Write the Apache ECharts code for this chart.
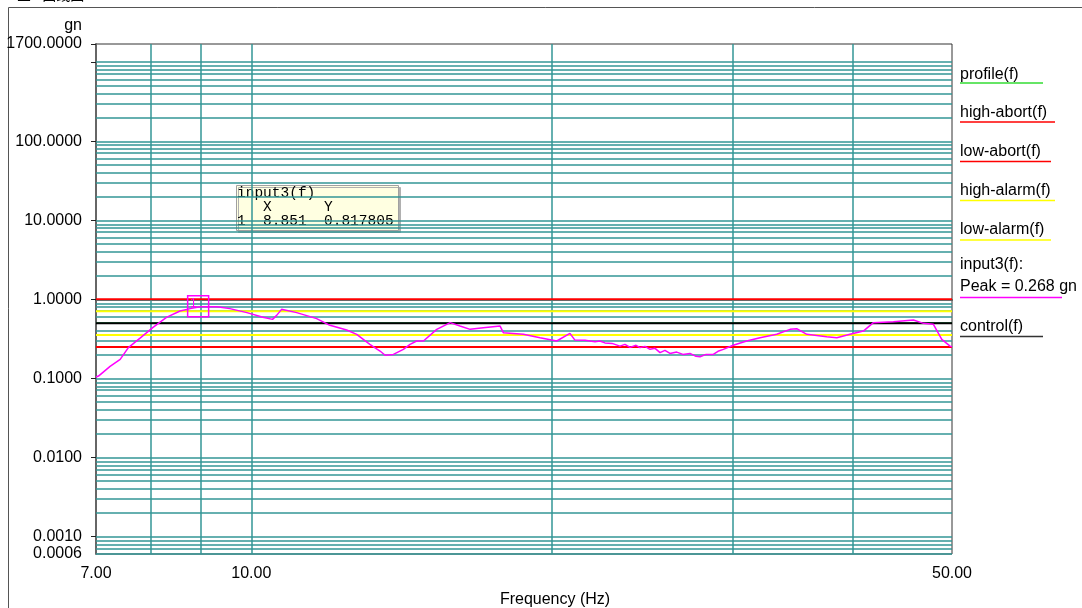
<!DOCTYPE html>
<html>
<head>
<meta charset="utf-8">
<script src="https://cdn.jsdelivr.net/npm/echarts@6/dist/echarts.min.js"></script>
<style>
  html, body { margin: 0; padding: 0; background: #fff; }
  #chart { width: 1082px; height: 608px; }
</style>
</head>
<body>
<div id="chart"></div>
<script>
// frequency range (Hz)
const freqRange = [7, 50];

// input3(f) response
const input3Freq = [7.00, 7.04, 7.23, 7.40, 7.54, 7.74, 7.98, 8.23, 8.49, 8.69, 8.89, 9.24, 9.52, 9.90,
  10.27, 10.50, 10.60, 10.72, 11.10, 11.62, 11.98, 12.45, 12.74, 13.13, 13.44, 13.60, 13.86, 14.18,
  14.40, 14.62, 14.85, 15.31, 15.54, 15.79, 16.15, 16.53, 17.04, 17.71, 17.84, 18.68, 19.41, 20.17,
  20.79, 21.03, 21.52, 22.02, 22.27, 22.53, 22.90, 23.32, 23.59, 23.87, 24.20, 24.42, 24.70, 24.99,
  25.28, 25.57, 25.86, 26.16, 26.57, 26.95, 27.39, 27.77, 28.03, 28.42, 28.90, 29.21, 29.57, 30.25,
  31.20, 32.17, 33.43, 34.47, 35.00, 35.82, 37.50, 38.38, 39.56, 40.79, 41.74, 43.70, 45.76, 46.82,
  47.91, 48.84, 49.78, 50.00];
const input3Gn = [0.104, 0.107, 0.142, 0.174, 0.245, 0.321, 0.442, 0.592, 0.711, 0.763, 0.808, 0.808, 0.763, 0.679,
  0.592, 0.558, 0.627, 0.747, 0.679, 0.570, 0.469, 0.409, 0.361, 0.269, 0.222, 0.196, 0.201, 0.233,
  0.269, 0.297, 0.297, 0.417, 0.459, 0.507, 0.459, 0.417, 0.438, 0.459, 0.379, 0.361, 0.327, 0.297,
  0.371, 0.305, 0.303, 0.290, 0.297, 0.281, 0.277, 0.256, 0.269, 0.247, 0.262, 0.245, 0.254, 0.233,
  0.240, 0.212, 0.226, 0.207, 0.215, 0.201, 0.207, 0.190, 0.188, 0.201, 0.201, 0.220, 0.233, 0.262,
  0.297, 0.327, 0.361, 0.417, 0.426, 0.361, 0.337, 0.327, 0.361, 0.397, 0.507, 0.522, 0.547, 0.497,
  0.483, 0.312, 0.256, 0.250];

// flat limit levels (gn)
const profileGn = 0.5;
const controlGn = 0.5;
const highAbortGn = 1.0;
const lowAbortGn = 0.25;
const highAlarmGn = 0.707;
const lowAlarmGn = 0.354;

// cursor readout
const cursorX = 8.851;
const cursorY = 0.817805;
const peakText = 'Peak = 0.268 gn';

// axis labels / ticks
const yLabelValues = [0.0006, 0.001, 0.01, 0.1, 1, 10, 100, 1700];
const yTickValues = [0.001, 0.01, 0.1, 1, 10, 100, 1000, 1700];
const xLabelValues = [7, 10, 50];
const xGridValues = [8, 9, 10, 20, 30, 40];
const yGridDecades = [0.001, 0.01, 0.1, 1, 10, 100];
const yGridBottom = [0.0006, 0.0007, 0.0008, 0.0009];
const yGridTop = [1000];

const legendNames = ['profile(f)', 'high-abort(f)', 'low-abort(f)', 'high-alarm(f)', 'low-alarm(f)', 'input3(f):', 'control(f)'];

const lg = Math.log10;
const GRID_COLOR = '#339696';
const FONT = '"Liberation Sans", Arial, sans-serif';

const yGridValues = [...yGridBottom];
yGridDecades.forEach(d => { for (let m = 1; m <= 9; m++) yGridValues.push(m * d); });
yGridValues.push(...yGridTop);

const flatLine = v => freqRange.map(f => [lg(f), lg(v)]);
const fmt4 = v => Math.pow(10, v).toFixed(4);

const chart = echarts.init(document.getElementById('chart'));

// legend on the right, text with coloured underline
const legendColors = ['#33dd33', '#ff0000', '#ff0000', '#ffff00', '#ffff00', '#ff00ff', '#333333'];
const legendTextY = [75, 113, 152, 191, 230, 265, 327];
const legendLineY = [83, 122, 161.5, 200.5, 240, 297.5, 336.5];
const legendLineLen = [83, 95, 91, 95, 91, 102, 83];
const legendChildren = [];
legendNames.forEach((name, i) => {
  legendChildren.push({
    type: 'text',
    style: { text: name, x: 960, y: legendTextY[i], font: '16px ' + FONT, fill: '#000', verticalAlign: 'middle' }
  });
  legendChildren.push({
    type: 'line',
    shape: { x1: 960, y1: legendLineY[i], x2: 960 + legendLineLen[i], y2: legendLineY[i] },
    style: { stroke: legendColors[i], lineWidth: 1.5 }
  });
});
legendChildren.push({
  type: 'text',
  style: { text: peakText, x: 960, y: 287, font: '16px ' + FONT, fill: '#000', verticalAlign: 'middle' }
});

const mono = '14.5px "Liberation Mono", "DejaVu Sans Mono", monospace';

const option = {
  animation: false,
  backgroundColor: '#fff',
  grid: {
    left: 96, right: 130, top: 44, bottom: 54,
    outerBoundsMode: 'none',
    containLabel: false,
    show: true, borderColor: '#333', borderWidth: 1, backgroundColor: 'transparent'
  },
  xAxis: {
    type: 'value',
    min: lg(freqRange[0]),
    max: lg(freqRange[1]),
    name: 'Frequency (Hz)',
    nameLocation: 'middle',
    nameGap: 38,
    nameTextStyle: { fontFamily: FONT, fontSize: 16, color: '#000', padding: [0, 0, 0, 62] },
    axisLine: { lineStyle: { color: '#222', width: 1.5 } },
    axisTick: { show: false },
    splitLine: { show: false },
    axisLabel: {
      customValues: xLabelValues.map(lg),
      formatter: v => Math.pow(10, v).toFixed(2),
      fontFamily: FONT, fontSize: 16, color: '#000', margin: 12
    }
  },
  yAxis: {
    type: 'value',
    min: lg(yLabelValues[0]),
    max: lg(yLabelValues[yLabelValues.length - 1]),
    name: 'gn',
    nameLocation: 'end',
    nameGap: 10,
    nameTextStyle: { fontFamily: FONT, fontSize: 16, color: '#000', align: 'right', padding: [0, 14, 0, 0] },
    axisLine: { show: true, lineStyle: { color: '#666', width: 2 } },
    axisTick: { show: true, customValues: yTickValues.map(lg), length: 5, lineStyle: { color: '#222' } },
    splitLine: { show: false },
    axisLabel: {
      customValues: yLabelValues.map(lg),
      formatter: fmt4,
      fontFamily: FONT, fontSize: 16, color: '#000', margin: 14
    }
  },
  series: [
    {
      name: 'profile(f)', type: 'line', z: 1, symbol: 'none', silent: true,
      data: flatLine(profileGn),
      lineStyle: { color: '#00b000', width: 1 },
      markLine: {
        z: 1, zlevel: 0,
        silent: true, symbol: 'none', animation: false,
        label: { show: false },
        emphasis: { disabled: true },
        lineStyle: { color: GRID_COLOR, width: 1.5, type: 'solid' },
        data: [
          ...xGridValues.map(v => ({ xAxis: lg(v) })),
          ...yGridValues.map(v => ({ yAxis: lg(v) }))
        ]
      }
    },
    { name: 'high-abort(f)', type: 'line', z: 6, symbol: 'none', silent: true, data: flatLine(highAbortGn), lineStyle: { color: '#ff0000', width: 2 } },
    { name: 'low-abort(f)', type: 'line', z: 6, symbol: 'none', silent: true, data: flatLine(lowAbortGn), lineStyle: { color: '#ff0000', width: 2 } },
    { name: 'high-alarm(f)', type: 'line', z: 6, symbol: 'none', silent: true, data: flatLine(highAlarmGn), lineStyle: { color: '#ffff00', width: 2 } },
    { name: 'low-alarm(f)', type: 'line', z: 6, symbol: 'none', silent: true, data: flatLine(lowAlarmGn), lineStyle: { color: '#ffff00', width: 2 } },
    { name: 'control(f)', type: 'line', z: 7, symbol: 'none', silent: true, data: flatLine(controlGn), lineStyle: { color: '#000', width: 2 } },
    {
      name: 'input3(f)', type: 'line', z: 8, symbol: 'none', silent: true,
      data: input3Freq.map((f, i) => [lg(f), lg(input3Gn[i])]),
      lineStyle: { color: '#ff00ff', width: 1.5 },
      markPoint: {
        z: 9,
        silent: true, animation: false,
        symbol: 'rect', symbolSize: 21,
        itemStyle: { color: 'rgba(0,0,0,0)', borderColor: '#ff00ff', borderWidth: 1.5 },
        label: { show: true, formatter: '1', position: 'insideTopLeft', distance: 3, color: '#ff00ff', fontSize: 12, fontFamily: FONT },
        data: [{ coord: [lg(cursorX), lg(cursorY)] }]
      }
    }
  ],
  graphic: [
    {
      type: 'rect', silent: true, z: -1,
      shape: { x: 8.5, y: 7.5, width: 1200, height: 700 },
      style: { fill: 'none', stroke: '#555', lineWidth: 1 }
    },
    {
      type: 'text', silent: true,
      style: { text: '三 - 曲线图', x: 17, y: -12, font: '14px "Noto Sans CJK SC", sans-serif', fill: '#000' }
    },
    { type: 'group', silent: true, children: legendChildren },
    {
      type: 'group', silent: true, z: 10,
      children: [
        {
          type: 'rect',
          shape: { x: 236.5, y: 185.5, width: 162, height: 45 },
          style: { fill: '#ffffe1', stroke: '#a0a0a0', lineWidth: 1, shadowColor: '#b0b0b0', shadowOffsetX: 2, shadowOffsetY: 2 }
        },
        { type: 'text', style: { text: 'input3(f)', x: 237, y: 193.5, font: mono, fill: '#000', verticalAlign: 'middle' } },
        { type: 'text', style: { text: '   X      Y', x: 237, y: 207, font: mono, fill: '#000', verticalAlign: 'middle' } },
        { type: 'text', style: { text: '1  ' + cursorX.toFixed(3) + '  ' + cursorY, x: 237, y: 221.5, font: mono, fill: '#000', verticalAlign: 'middle' } }
      ]
    }
  ]
};

chart.setOption(option);
</script>
</body>
</html>
